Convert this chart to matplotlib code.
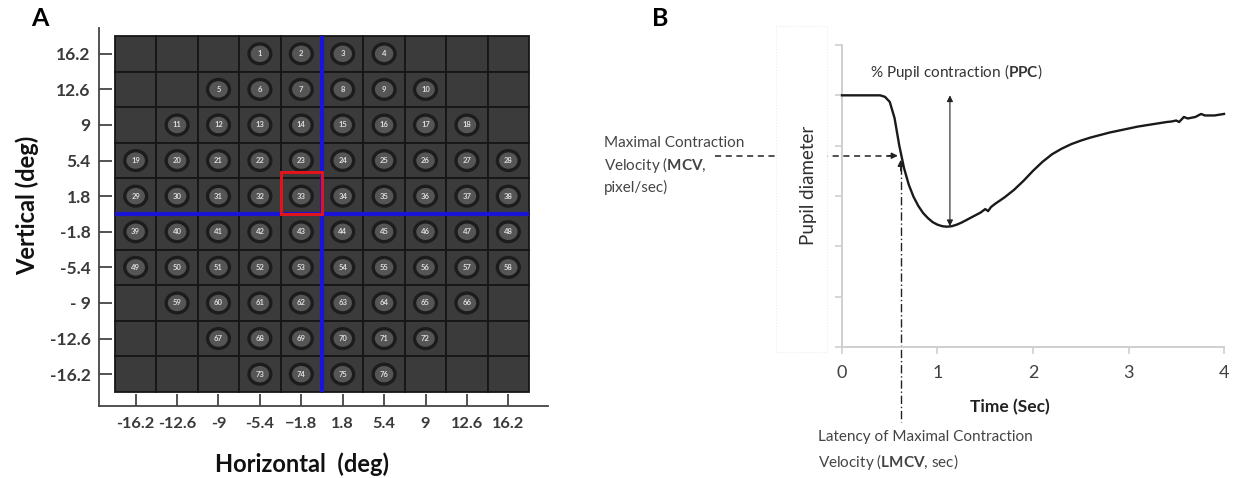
import matplotlib
matplotlib.use("Agg")
import matplotlib.pyplot as plt
from matplotlib.patches import Rectangle, Ellipse

plt.rcParams['font.family'] = ['Lato', 'DejaVu Sans']
plt.rcParams['mathtext.fontset'] = 'custom'
plt.rcParams['mathtext.rm'] = 'Lato'
plt.rcParams['mathtext.bf'] = 'Lato:bold'

# ---- panel A data: stimulus grid ----
h_ticks = [-16.2, -12.6, -9, -5.4, -1.8, 1.8, 5.4, 9, 12.6, 16.2]
h_labels = ['-16.2', '-12.6', '-9', '-5.4', '\u22121.8', '1.8', '5.4', '9', '12.6', '16.2']
v_ticks = [16.2, 12.6, 9, 5.4, 1.8, -1.8, -5.4, -9, -12.6, -16.2]
v_labels = ['16.2', '12.6', '9', '5.4', '1.8', '-1.8', '-5.4', '- 9', '-12.6', '-16.2']
row_first_col = [3, 2, 1, 0, 0, 0, 0, 1, 2, 3]
row_last_col = [6, 7, 8, 9, 9, 9, 9, 8, 7, 6]
center_cell = (-1.8, 1.8)   # stimulus 33

# ---- panel B data: pupil response ----
time_s = [0, 0.10, 0.20, 0.30, 0.40, 0.45, 0.50, 0.55, 0.60, 0.65, 0.70, 0.75,
          0.80, 0.85, 0.90, 0.95, 1.00, 1.05, 1.10, 1.15, 1.20, 1.25, 1.30, 1.35,
          1.40, 1.45, 1.50, 1.53, 1.56, 1.60, 1.70, 1.80, 1.90, 2.00, 2.10, 2.20,
          2.30, 2.40, 2.50, 2.60, 2.70, 2.80, 2.90, 3.00, 3.10, 3.20, 3.30, 3.40,
          3.45, 3.50, 3.53, 3.58, 3.62, 3.70, 3.76, 3.80, 3.90, 4.00]
pupil = [5.0, 5.0, 5.0, 5.0, 5.0, 4.97, 4.87, 4.55, 4.0, 3.55, 3.22, 2.98,
         2.80, 2.66, 2.56, 2.48, 2.43, 2.40, 2.39, 2.40, 2.43, 2.47, 2.52, 2.57,
         2.62, 2.67, 2.74, 2.70, 2.78, 2.84, 2.97, 3.12, 3.30, 3.50, 3.68, 3.83,
         3.94, 4.03, 4.10, 4.16, 4.21, 4.26, 4.30, 4.34, 4.38, 4.41, 4.44, 4.47,
         4.48, 4.50, 4.47, 4.57, 4.54, 4.57, 4.63, 4.60, 4.60, 4.63]
mcv_t, mcv_y = 0.60, 3.80
ppc_t, ppc_top, ppc_bottom = 1.13, 5.0, 2.40

W, H = 1235, 478
fig = plt.figure(figsize=(W / 100, H / 100), dpi=100)


def fx(x):
    return x / W


def fy(y):
    return 1 - y / H


# ================= panel A =================
axA = fig.add_axes([fx(99), fy(406), (548 - 99) / W, (406 - 28) / H])
axA.set_xlim(-19.39, 19.65)
axA.set_ylim(-19.42, 18.81)

# background cells
for yc in v_ticks:
    for xc in h_ticks:
        axA.add_patch(Rectangle((xc - 1.8, yc - 1.8), 3.6, 3.6, facecolor='#3b3b3b',
                                edgecolor='#161616', lw=1.3, zorder=1))

# numbered stimuli
n = 1
for r, yc in enumerate(v_ticks):
    for c in range(row_first_col[r], row_last_col[r] + 1):
        xc = h_ticks[c]
        axA.add_patch(Ellipse((xc, yc), 1.9, 2.0, facecolor='#555555',
                              edgecolor='#1c1c1c', lw=2.4, zorder=2))
        axA.text(xc, yc, str(n), color='#dcdcdc', fontsize=5.5, fontweight='bold',
                 ha='center', va='center', zorder=3)
        n += 1

axA.plot([0, 0], [-18, 18], color='#1a14d6', lw=3.0, zorder=4, solid_capstyle='butt')
axA.plot([-18, 18], [0, 0], color='#1a14d6', lw=3.0, zorder=4, solid_capstyle='butt')
axA.add_patch(Rectangle((center_cell[0] - 1.8, center_cell[1] - 1.8), 3.6, 4.2,
                        facecolor='none', edgecolor='#e0141c', lw=2.2, zorder=5))

for s in ['top', 'right']:
    axA.spines[s].set_visible(False)
for s in ['left', 'bottom']:
    axA.spines[s].set_color('#444444')
    axA.spines[s].set_linewidth(1.3)
axA.set_xticks(h_ticks)
axA.set_xticklabels(h_labels)
axA.set_yticks(v_ticks)
axA.set_yticklabels(v_labels)
axA.tick_params(direction='in', length=9, width=1.3, color='#444444',
                labelcolor='#3a3a3a', labelsize=12.5)
axA.tick_params(axis='x', pad=8, labelsize=11.8)
axA.tick_params(axis='y', pad=6)
for lab in axA.get_xticklabels() + axA.get_yticklabels():
    lab.set_fontweight('bold')

fig.text(fx(40), fy(18), 'A', fontsize=18, fontweight='bold', ha='center', va='center')
fig.text(fx(27), fy(205), 'Vertical (deg)', fontsize=17, fontweight='bold',
         rotation=90, ha='center', va='center', color='#111111')
fig.text(fx(302), fy(464), 'Horizontal  (deg)', fontsize=17, fontweight='bold',
         ha='center', va='center', color='#111111')

# ================= panel B =================
axB = fig.add_axes([fx(842), fy(347), (1224 - 842) / W, (347 - 45) / H])
axB.set_xlim(0, 4)
axB.set_ylim(0, 6)
for s in ['top', 'right']:
    axB.spines[s].set_visible(False)
for s in ['left', 'bottom']:
    axB.spines[s].set_color('#cccccc')
    axB.spines[s].set_linewidth(1.3)
axB.set_xticks([0, 1, 2, 3, 4])
axB.set_yticks([0, 1, 2, 3, 4, 5, 6])
axB.set_yticklabels([])
axB.tick_params(length=5, width=1.1, color='#cccccc', labelcolor='#404040', labelsize=13)
axB.tick_params(axis='x', pad=8)

axB.plot(time_s, pupil, color='#1a1a1a', lw=1.7, zorder=4, clip_on=False)

# PPC double arrow
axB.annotate('', xy=(ppc_t, ppc_bottom), xytext=(ppc_t, ppc_top),
             arrowprops=dict(arrowstyle='<|-|>', color='#222222', lw=0.8,
                             mutation_scale=9, shrinkA=0, shrinkB=0))

# MCV dashed line + arrow
axB.plot([-1.33, mcv_t - 0.06], [mcv_y, mcv_y], ls=(0, (4, 3)), color='#222222',
         lw=1.1, clip_on=False, zorder=2)
axB.annotate('', xy=(mcv_t - 0.015, mcv_y), xytext=(mcv_t - 0.12, mcv_y),
             arrowprops=dict(arrowstyle='-|>', color='#222222', lw=1.0,
                             mutation_scale=9, shrinkA=0, shrinkB=0))
# LMCV dash-dot line + arrow
axB.plot([mcv_t + 0.015, mcv_t + 0.015], [mcv_y - 0.2, -1.49], ls=(0, (6, 2, 1, 2)),
         color='#222222', lw=1.0, clip_on=False, zorder=2)
axB.annotate('', xy=(mcv_t + 0.015, mcv_y - 0.08), xytext=(mcv_t + 0.015, mcv_y - 0.3),
             arrowprops=dict(arrowstyle='-|>', color='#222222', lw=1.0,
                             mutation_scale=9, shrinkA=0, shrinkB=0))

# y label box
axB.add_patch(Rectangle((-0.69, -0.1), 0.533, 6.48, facecolor='white',
                        edgecolor='#ededed', lw=0.8, ls=':', clip_on=False, zorder=3))
axB.text(-0.356, 3.22, 'Pupil diameter', rotation=90, ha='center', va='center',
         fontsize=13.5, color='#303030', zorder=5)

fig.text(fx(660), fy(18), 'B', fontsize=18, fontweight='bold', ha='center', va='center')
fig.text(fx(1010), fy(407), 'Time (Sec)', fontsize=12.5, fontweight='bold',
         ha='center', va='center', color='#222222')
fig.text(fx(870), fy(72), r'% Pupil contraction ($\mathbf{PPC}$)', fontsize=11,
         ha='left', va='center', color='#333333')
fig.text(fx(604), fy(143), 'Maximal Contraction', fontsize=11, ha='left',
         va='center', color='#444444')
fig.text(fx(604), fy(165), r'Velocity ($\mathbf{MCV}$,', fontsize=11, ha='left',
         va='center', color='#444444')
fig.text(fx(604), fy(187), 'pixel/sec)', fontsize=11, ha='left', va='center',
         color='#444444')
fig.text(fx(818), fy(437), 'Latency of Maximal Contraction', fontsize=11, ha='left',
         va='center', color='#444444')
fig.text(fx(818), fy(462), r'Velocity ($\mathbf{LMCV}$, sec)', fontsize=11,
         ha='left', va='center', color='#444444')

fig.savefig('out.png', dpi=100, facecolor='white')
